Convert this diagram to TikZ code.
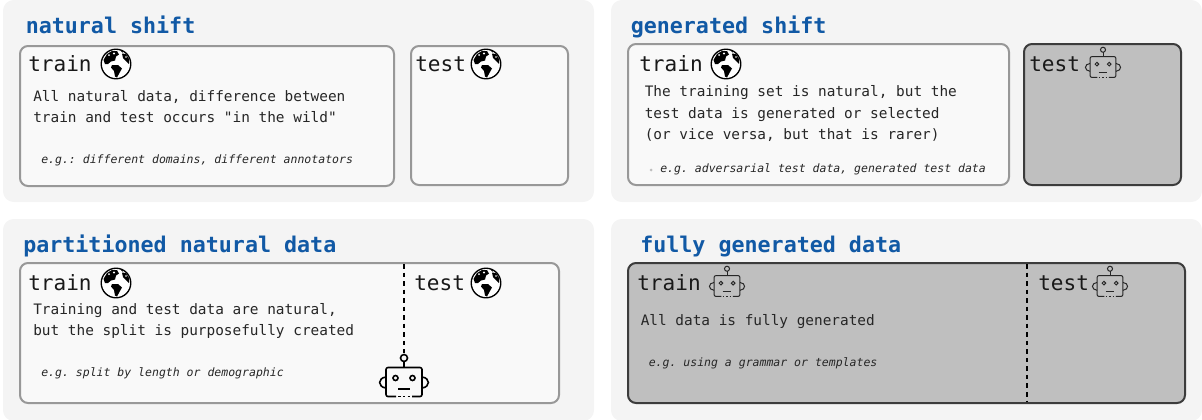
\documentclass[tikz,border=0pt]{standalone}
\usepackage{fontspec}
\setmonofont{DejaVu Sans Mono}
\definecolor{panelgray}{HTML}{F4F4F4}
\definecolor{boxgray}{HTML}{F9F9F9}
\definecolor{boxline}{HTML}{989898}
\definecolor{gengray}{HTML}{BFBFBF}
\definecolor{genline}{HTML}{3C3C3C}
\definecolor{titleblue}{HTML}{1159A5}
\tikzset{
 panel/.style={fill=panelgray, draw=none, rounded corners=8pt},
 natbox/.style={fill=boxgray, draw=boxline, line width=1.5pt, rounded corners=6pt},
 genbox/.style={fill=gengray, draw=genline, line width=1.5pt, rounded corners=6pt},
 split/.style={black, dashed, line width=1.5pt, dash pattern=on 3.4pt off 3pt},
 title/.style={anchor=base west, inner sep=0, text=titleblue, font=\fontsize{16.25}{18}\selectfont\ttfamily\bfseries},
 part/.style={anchor=base west, inner sep=0, text=black!90, font=\fontsize{15.8}{18}\selectfont\ttfamily},
 body/.style={anchor=base west, inner sep=0, align=left, text=black!85, font=\fontsize{10.8}{15.75}\selectfont\ttfamily},
 example/.style={anchor=base west, inner sep=0, text=black!85, font=\fontsize{8.63}{10}\selectfont\ttfamily\itshape},
 globe/.pic={
  \draw[black, line width=1pt, fill=white] (0,0) circle (14.8);
  \fill[black] (-12.5,-4) -- (-9,-10) -- (-4,-13) -- (1,-13) -- (3,-9.5) -- (0,-7.5) -- (-1,-3.5) -- (-5,-2.5) -- (-8,0) -- (-11,0) -- cycle;
  \fill[black] (-4,1) -- (2,1) -- (6,4.5) -- (4,8) -- (1,13.5) -- (-1,12.5) -- (-2,7) -- (-5,3.5) -- cycle;
  \fill[black] (6,-10.5) -- (10,-10) -- (13,-5) -- (13,0) -- (10,-3) -- (7,-6) -- cycle;
  \fill[black] (5,-13) -- (8,-12.5) -- (6.5,-11.5) -- cycle;
  \fill[white] (-7,-9) circle (1) (-2,-10.5) circle (1.1) (10,-7) circle (.8);
 },
 robot/.pic={
  \draw[line join=round, rounded corners=1.5pt] (-8,14.5) -- (-18,14.5) -- (-18,-14.5) -- (18,-14.5) -- (18,14.5) -- (8,14.5);
  \draw (-6,14.5) -- (-3.5,14.5) (-1,14.5) -- (1,14.5) (3.5,14.5) -- (6,14.5);
  \draw (0,-14.5) -- (0,-20.5);
  \draw (0,-24) circle (3.5);
  \draw (-8.5,-4) circle (2.5) (8.5,-4) circle (2.5);
  \draw (-6,7) -- (6,7);
  \draw (-18,-5) .. controls (-26.5,-4) and (-26.5,5) .. (-18,6);
  \draw (18,-5) .. controls (26.5,-4) and (26.5,5) .. (18,6);
 },
}
\begin{document}
\begin{tikzpicture}[x=.75pt, y=-.75pt]
\useasboundingbox (0,0) rectangle (1202,419);
\foreach \x/\y in {3/0,611/0,3/219,611/219} {
 \fill[panel] (\x,\y) rectangle ++(591,202);
}
\draw[natbox] (20,46) rectangle (394,186);
\draw[natbox] (411,46) rectangle (568,185);
\draw[natbox] (628,44) rectangle (1009,185);
\draw[genbox] (1024,44) rectangle (1181,185);
\draw[natbox] (20,263) rectangle (559,403);
\draw[genbox] (628,263) rectangle (1185,403);
\draw[split] (404,264) -- (404,353);
\draw[split] (1027,264) -- (1027,402);

\node[title] (naturaltitle) at (25.5,33) {natural shift};
\node[title] (generatedtitle) at (630.5,33) {generated shift};
\node[title] (partitionedtitle) at (23,252) {partitioned natural data};
\node[title] (fullytitle) at (640,252) {fully generated data};

\foreach \x/\y in {28/71,639/71,28/290,637/290} {
 \node[part] (train\x\y) at (\x,\y) {train};
}
\foreach \x/\y in {415/71,1029/71,414/290,1038/290} {
 \node[part] (test\x\y) at (\x,\y) {test};
}
\foreach \x/\y in {116/64,486/64,726/64,116/283,486/283} {
 \pic at (\x,\y) {globe};
}
\pic[line width=1.2pt] at (404,382) {robot};
\foreach \x/\y in {1103/67,727/286,1110/286} {
 \pic[scale=.72, line width=.75pt, black!85] at (\x,\y) {robot};
}

\node[body] (naturaltext) at (33,101) {All natural data, difference between};
\node[body] (naturaltextb) at (33,122) {train and test occurs "in the wild"};
\node[example] (naturalex) at (41,163) {e.g.: different domains, different annotators};

\node[body] (generatedtext) at (644.5,96) {The training set is natural, but the};
\node[body] (generatedtextb) at (644.5,118) {test data is generated or selected};
\node[body] (generatedtextc) at (644.5,139) {(or vice versa, but that is rarer)};
\node[example] (generatedex) at (660,172) {e.g. adversarial test data, generated test data};
\fill[black!25] (651,170) circle (1.5);

\node[body] (partitionedtext) at (33,314) {Training and test data are natural,};
\node[body] (partitionedtextb) at (33,335) {but the split is purposefully created};
\node[example] (partitionedex) at (41,376) {e.g. split by length or demographic};

\node[body] (fullytext) at (640.5,325) {All data is fully generated};
\node[example] (fullyex) at (648.5,366) {e.g. using a grammar or templates};
\end{tikzpicture}
\end{document}
